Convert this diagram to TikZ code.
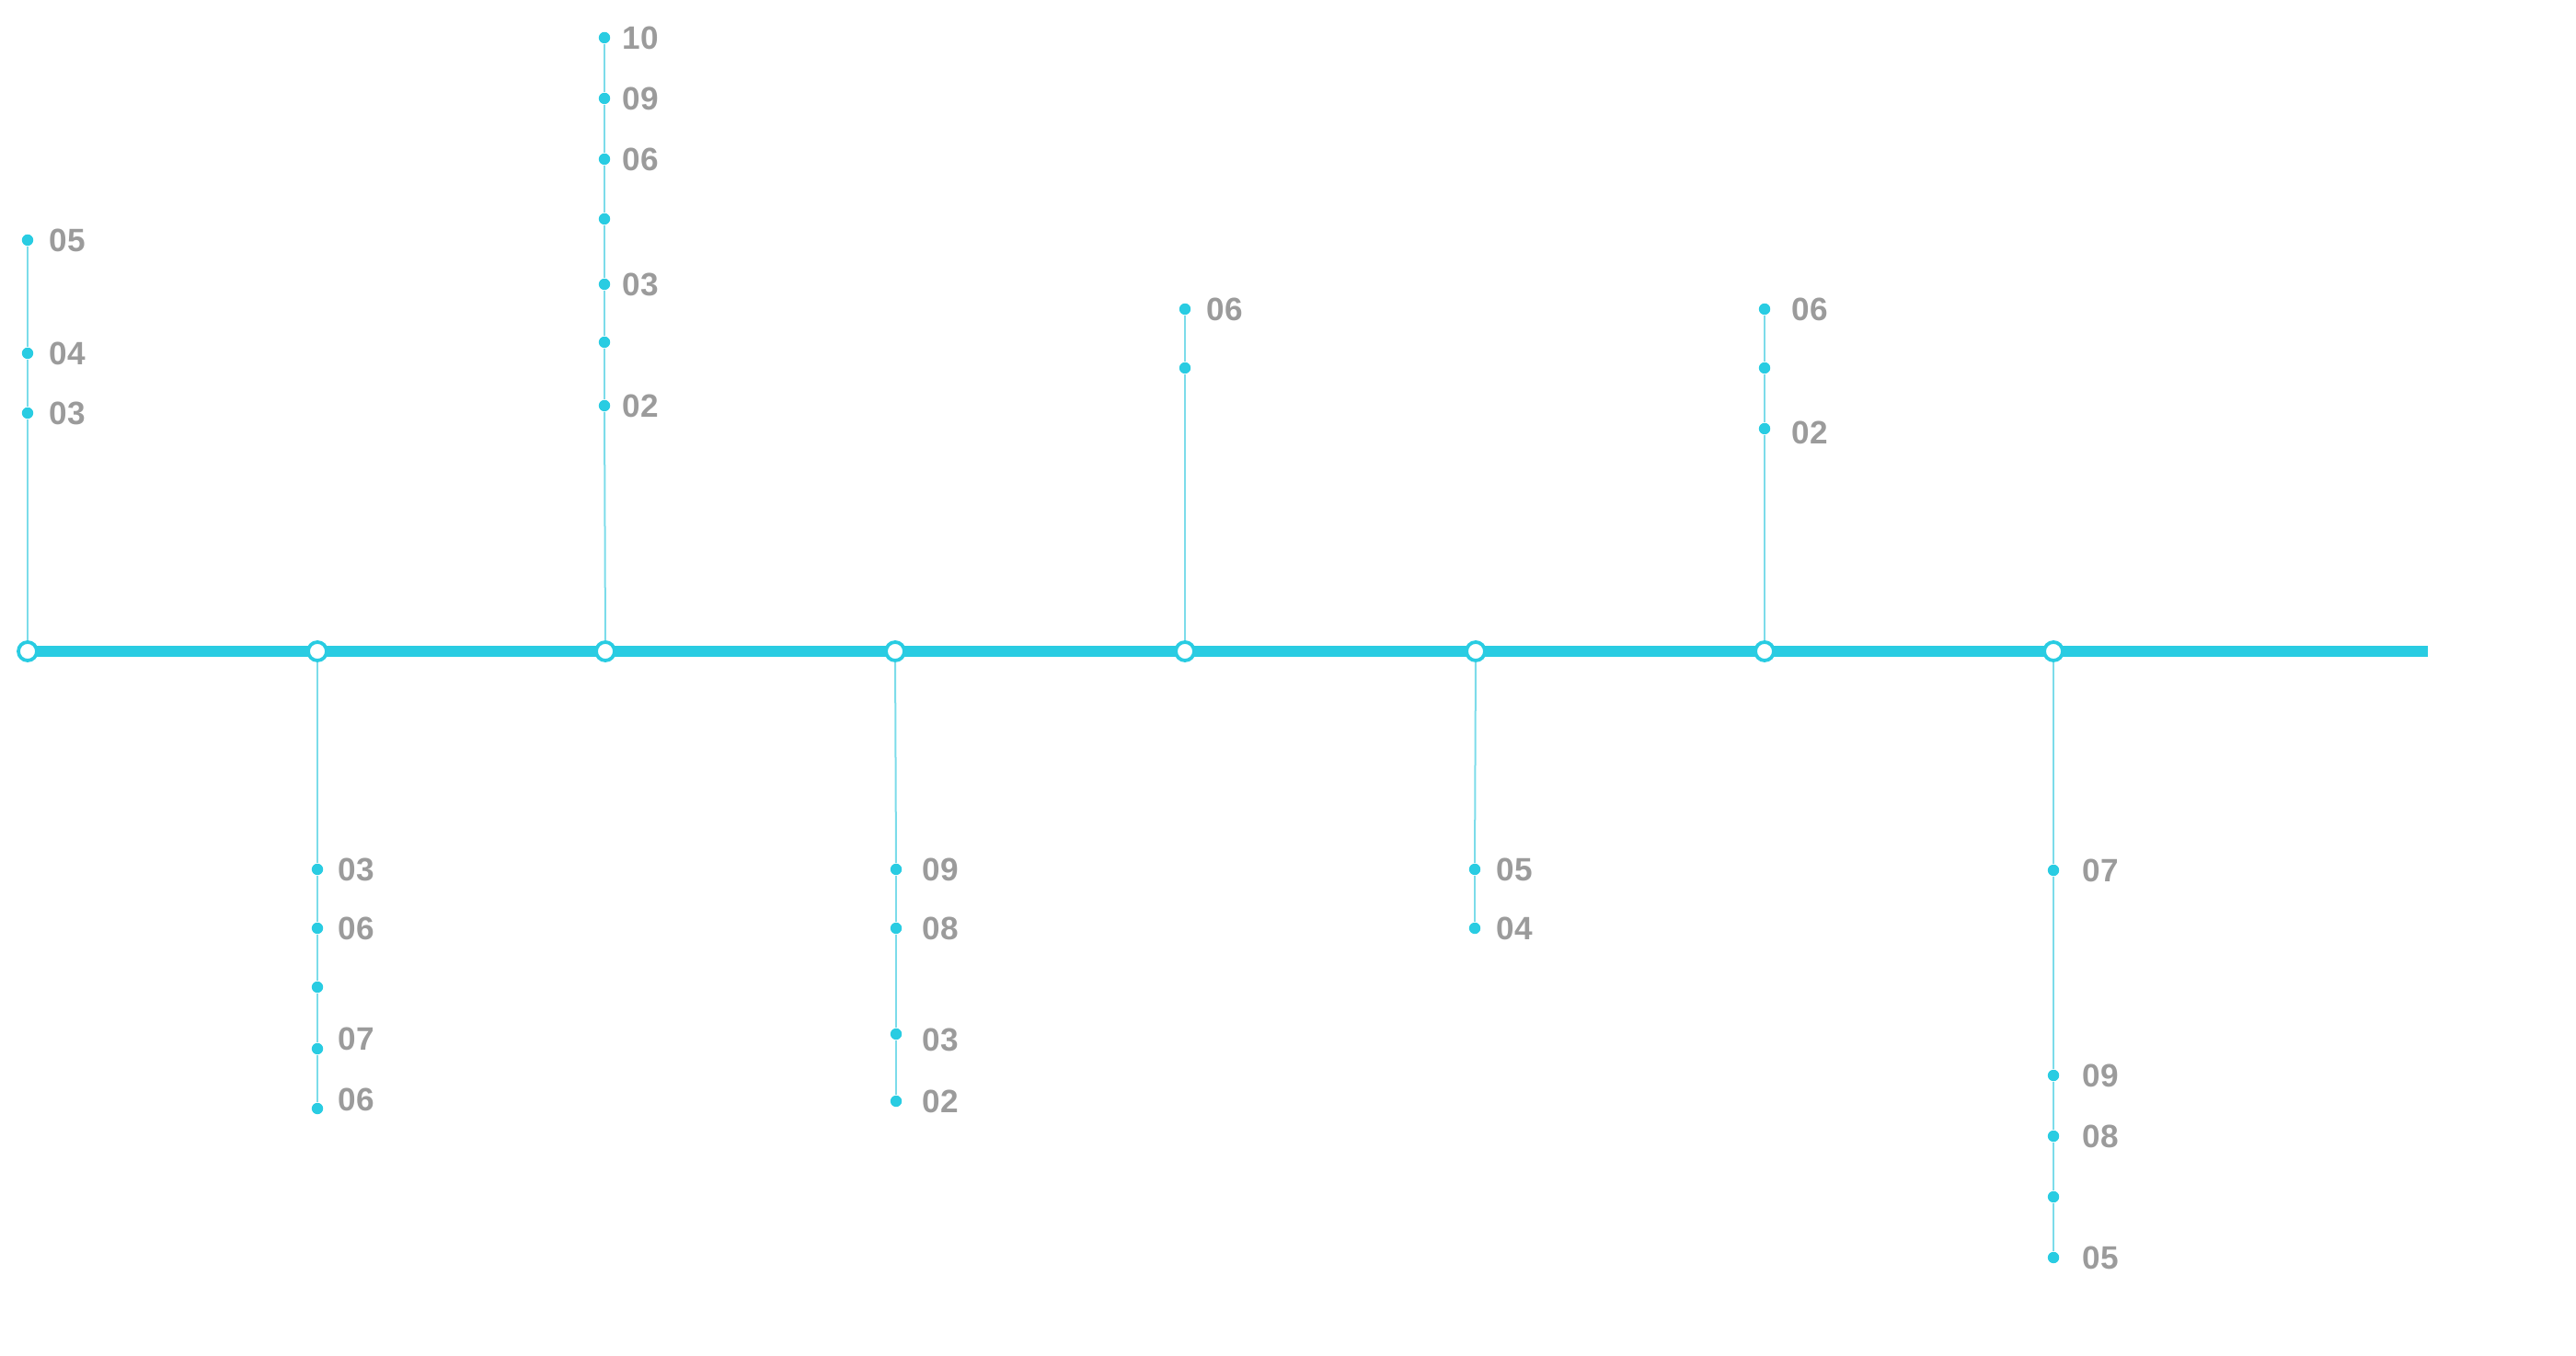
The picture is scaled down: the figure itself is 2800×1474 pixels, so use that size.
\documentclass[tikz,border=0pt]{standalone}
\usepackage{fontspec}
\setmainfont{Liberation Sans}
\usetikzlibrary{positioning,backgrounds}
\definecolor{Track}{HTML}{29CCE2}
\definecolor{Stem}{HTML}{7CDCEA}
\definecolor{Tag}{HTML}{9B9B9B}
\tikzset{station/.style={circle,draw=Track,fill=white,line width=0.38mm,
    minimum size=2mm,inner sep=0pt},
  stop/.style={circle,fill=Track,minimum size=1.24mm,inner sep=0pt},
  tag/.style={inner sep=0pt,text=Tag,font=\fontsize{10pt}{12pt}\selectfont\bfseries},
  axis/.style={draw=Track,line width=1.2mm},
  stem/.style={draw=Stem,line width=0.2mm}}

\begin{document}
\begin{tikzpicture}[x=0.01cm,y=-0.01cm]
    \useasboundingbox (0,0) rectangle (2800,1474);
    % stations on the track
    \foreach \i/\sx in {1/30,2/345,3/658,4/973,5/1288,6/1604,7/1918,8/2232}
      \node[station] (s\i) at (\sx,708) {};
    \coordinate (trackend) at (2639,708);
    \begin{scope}[on background layer]
      \draw[axis] (s1.center)--(trackend);
    \end{scope}
    % stops, listed from the track outwards (y / label shift / label)
    \foreach \i/\sx/\gap/\stops in {
        1/30/1.6/{449/0/03,384/0/04,261/0/05},
        2/345/1.5/{945/0/03,1009/0/06,1073/0/,1140/-11/07,1205/-10/06},
        3/657/1.2/{441/0/02,372/0/,309/0/03,238/0/,173/0/06,107/0/09,41/0/10},
        4/974/2.1/{945/0/09,1009/0/08,1124/6/03,1197/0/02},
        5/1288/1.6/{400/0/,336/0/06},
        6/1603/1.6/{945/0/05,1009/0/04},
        7/1918/2.2/{466/4/02,400/0/,336/0/06},
        8/2232/2.4/{946/0/07,1169/0/09,1235/0/08,1301/0/,1367/0/05}}{
      \foreach \sy/\dy/\t [count=\j, remember=\j as \k (initially 0)] in \stops {
        \node[stop] (d\i-\j) at (\sx,\sy) {};
        \ifnum\k=0 \draw[stem] (s\i)--(d\i-\j);
        \else \draw[stem] (d\i-\k)--(d\i-\j); \fi
        \edef\txt{\t}
        \ifx\txt\empty\else
          \node[tag,right=\gap mm of d\i-\j,yshift={-(\dy)*0.1mm}] {\t};
        \fi
      }
    }
  \end{tikzpicture}
\end{document}
